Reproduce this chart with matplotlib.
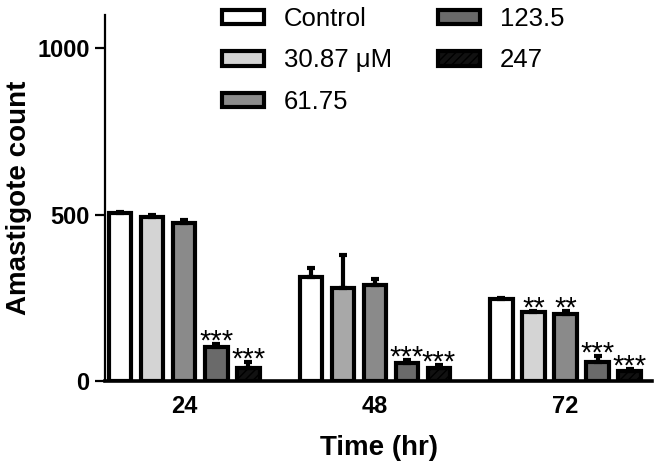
import numpy as np
import matplotlib.pyplot as plt
from matplotlib.patches import Patch

plt.rcParams['font.family'] = ['Liberation Sans', 'DejaVu Sans']

times = ['24', '48', '72']
doses = ['Control', '30.87 \u03bcM', '61.75', '123.5', '247']

# mean amastigote count per dose, one value per time point
control = [504, 313, 247]
d30 = [492, 280, 206]
d61 = [476, 289, 202]
d123 = [102, 53, 57]
d247 = [38, 38, 30]

# SEM (drawn upward only)
sem_control = [5, 27, 3]
sem_d30 = [8, 100, 4]
sem_d61 = [8, 18, 7]
sem_d123 = [8, 9, 17]
sem_d247 = [18, 9, 5]

# significance marks
stars = [
    ['', '', '', '***', '***'],
    ['', '', '', '***', '***'],
    ['', '**', '**', '***', '***'],
]

means = [control, d30, d61, d123, d247]
sems = [sem_control, sem_d30, sem_d61, sem_d123, sem_d247]
colors = ['white', '#d4d4d4', '#8a8a8a', '#6a6a6a', '#111111']
hatches = ['', '', '', '', '////']

fig = plt.figure(figsize=(6.58, 4.71), dpi=100)
ax = fig.add_axes([105/658, 1-381/471, 547/658, 366/471])

x = np.arange(len(times))
pitch = 0.168
width = 0.116
lw = 3

plt.rcParams['hatch.color'] = '#555555'
for i in range(len(doses)):
    pos = x + (i - 2) * pitch
    cols = [colors[i]] * 3
    if i == 1:
        cols[1] = '#a8a8a8'
    ax.bar(pos, means[i], width, color=cols, edgecolor='black',
           linewidth=lw, hatch=hatches[i], zorder=2)
    ax.errorbar(pos, means[i], yerr=[np.zeros(3), sems[i]], fmt='none',
                ecolor='black', elinewidth=3, capsize=3.2, capthick=3, zorder=3)
    for j in range(3):
        s = stars[j][i]
        if s:
            ax.annotate(s, (pos[j], means[i][j] + sems[i][j]), xytext=(0, -4),
                        textcoords='offset points', ha='center', va='baseline',
                        fontsize=21)

ax.set_xlim(-0.417, 2.454)
ax.set_ylim(0, 1100)
ax.set_yticks([0, 500, 1000])
ax.set_xticks(x)
ax.set_xticklabels(times)
ax.spines['top'].set_visible(False)
ax.spines['right'].set_visible(False)
ax.spines['left'].set_linewidth(1.6)
ax.spines['bottom'].set_linewidth(2.6)
ax.tick_params(axis='y', length=7, width=1.6, pad=4, labelsize=17)
ax.tick_params(axis='x', length=0, pad=10, labelsize=17)
for t in ax.get_xticklabels() + ax.get_yticklabels():
    t.set_fontweight('bold')

ax.set_ylabel('Amastigote count', fontsize=20, fontweight='bold')
ax.yaxis.set_label_coords(-0.133, 0.5)
ax.set_xlabel('Time (hr)', fontsize=20, fontweight='bold', labelpad=12)

handles = [Patch(facecolor=colors[i], edgecolor='black', linewidth=lw,
                 hatch=hatches[i]) for i in range(len(doses))]
leg = fig.legend(handles, doses, loc='upper left', ncol=2,
                 bbox_to_anchor=(222/658, 1-7/471), frameon=False,
                 fontsize=18.5, handlelength=1.65, handleheight=0.5,
                 handletextpad=0.75, columnspacing=1.8, labelspacing=0.68,
                 borderpad=0, borderaxespad=0)

fig.savefig('out.png', dpi=100)
